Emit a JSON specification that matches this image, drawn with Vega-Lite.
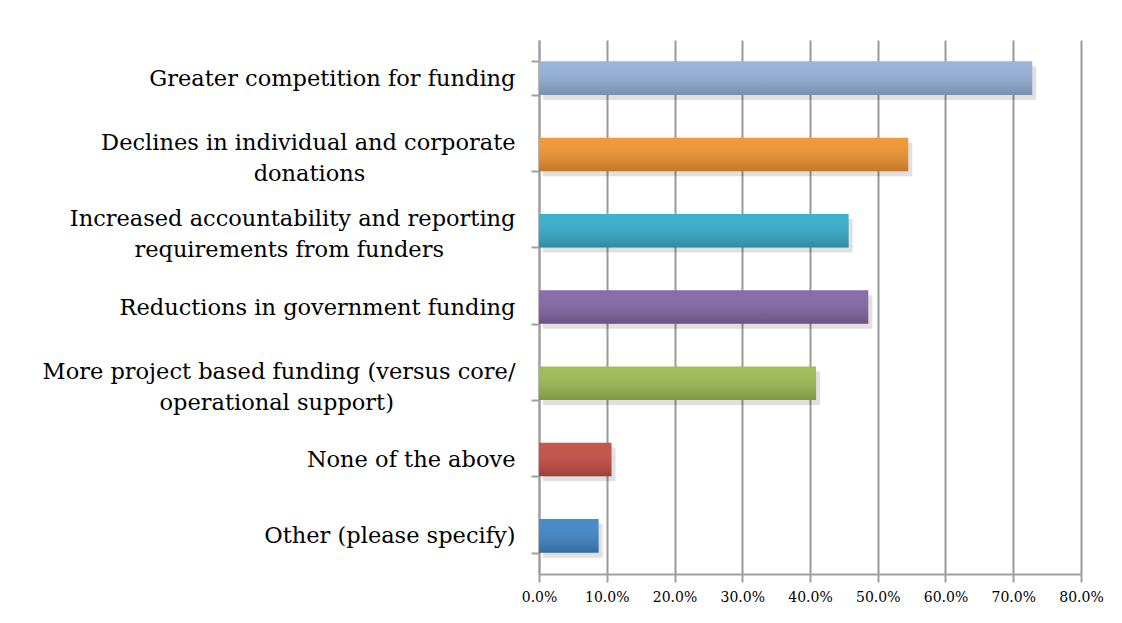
{
  "$schema": "https://vega.github.io/schema/vega-lite/v6.json",
  "autosize": "none",
  "width": 542,
  "height": 534,
  "padding": {"left": 539, "top": 40, "right": 41, "bottom": 49},
  "background": "white",
  "config": {"view": {"stroke": null}},
  "data": {
    "values": [
      {"category": "Greater competition for funding", "pct": 0.728},
      {"category": "Declines in individual and corporate donations", "pct": 0.545},
      {"category": "Increased accountability and reporting requirements from funders", "pct": 0.457},
      {"category": "Reductions in government funding", "pct": 0.486},
      {"category": "More project based funding (versus core/ operational support)", "pct": 0.409},
      {"category": "None of the above", "pct": 0.107},
      {"category": "Other (please specify)", "pct": 0.088}
    ]
  },
  "encoding": {
    "y": {
      "field": "category",
      "type": "nominal",
      "sort": null,
      "title": null,
      "scale": {"paddingInner": 0.56, "paddingOuter": 0.28},
      "axis": {
        "tickBand": "extent",
        "tickSize": 8,
        "tickColor": "#a0a0a0",
        "tickWidth": 2,
        "domainColor": "#a0a0a0",
        "domainWidth": 2,
        "labelFont": "DejaVu Serif",
        "labelFontSize": 22.5,
        "labelColor": "#000000",
        "labelPadding": 16,
        "labelLimit": 600,
        "labelLineHeight": 31,
        "labelExpr": "datum.value == 'Declines in individual and corporate donations' ? ['Declines in individual and corporate', 'donations\u00a0\u00a0\u00a0\u00a0\u00a0\u00a0\u00a0\u00a0\u00a0\u00a0\u00a0\u00a0\u00a0\u00a0\u00a0\u00a0\u00a0\u00a0\u00a0\u00a0\u00a0\u200b'] : datum.value == 'Increased accountability and reporting requirements from funders' ? ['Increased accountability and reporting', 'requirements from funders\u00a0\u00a0\u00a0\u00a0\u00a0\u00a0\u00a0\u00a0\u00a0\u00a0\u200b'] : datum.value == 'More project based funding (versus core/ operational support)' ? ['More project based funding (versus core/', 'operational support)\u00a0\u00a0\u00a0\u00a0\u00a0\u00a0\u00a0\u00a0\u00a0\u00a0\u00a0\u00a0\u00a0\u00a0\u00a0\u00a0\u00a0\u200b'] : datum.label",
        "labelBaseline": {
          "condition": {"test": "datum.value == 'Declines in individual and corporate donations' || datum.value == 'Increased accountability and reporting requirements from funders' || datum.value == 'More project based funding (versus core/ operational support)'", "value": "bottom"},
          "value": "middle"
        }
      }
    },
    "x": {
      "field": "pct",
      "type": "quantitative",
      "title": null,
      "scale": {"domain": [0, 0.8], "nice": false},
      "axis": {
        "format": ".1%",
        "values": [0, 0.1, 0.2, 0.3, 0.4, 0.5, 0.6, 0.7, 0.8],
        "grid": true,
        "gridColor": "#9a9a9a",
        "gridWidth": 2,
        "tickSize": 8,
        "tickColor": "#a0a0a0",
        "tickWidth": 2,
        "domainColor": "#a0a0a0",
        "domainWidth": 2,
        "labelFont": "DejaVu Serif",
        "labelFontSize": 14,
        "labelColor": "#000000",
        "labelPadding": 8,
        "labelFlush": false,
        "labelOverlap": false
      }
    }
  },
  "layer": [
    {
      "mark": {"type": "bar", "color": "#000000", "opacity": 0.12, "xOffset": 4, "yOffset": 5}
    },
    {
      "mark": {"type": "bar"},
      "encoding": {
        "color": {
          "field": "category",
          "type": "nominal",
          "legend": null,
          "scale": {
            "domain": [
              "Greater competition for funding",
              "Declines in individual and corporate donations",
              "Increased accountability and reporting requirements from funders",
              "Reductions in government funding",
              "More project based funding (versus core/ operational support)",
              "None of the above",
              "Other (please specify)"
            ],
            "range": ["#95b2d8", "#f29431", "#36aecb", "#8466a6", "#9dbb52", "#c64e44", "#4186c8"]
          }
        }
      }
    },
    {
      "mark": {
        "type": "bar",
        "color": {
          "gradient": "linear",
          "x1": 0, "y1": 0, "x2": 0, "y2": 1,
          "stops": [
            {"offset": 0, "color": "rgba(255,255,255,0.04)"},
            {"offset": 1, "color": "rgba(0,0,0,0.2)"}
          ]
        }
      }
    }
  ]
}
